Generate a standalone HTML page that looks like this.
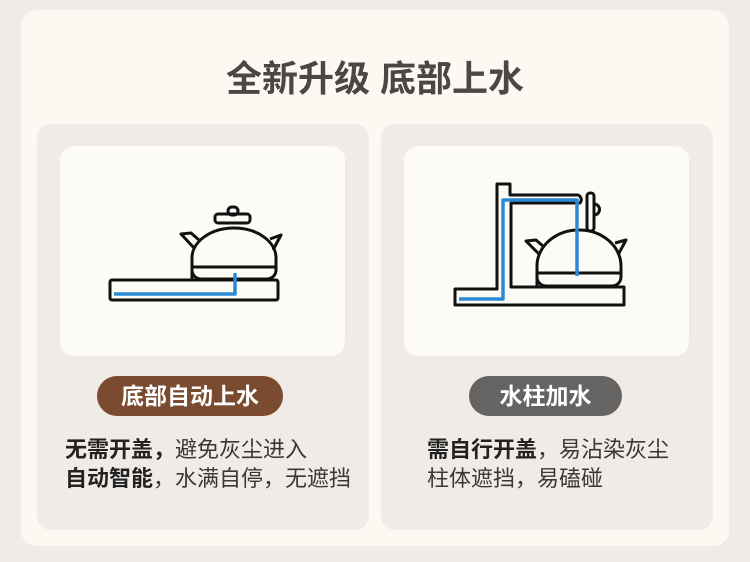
<!DOCTYPE html>
<html><head><meta charset="utf-8"><style>
body{margin:0;width:750px;height:562px;background:#f1ebe7;font-family:"Liberation Sans","Noto Sans CJK SC",sans-serif;overflow:hidden}
.outer{position:absolute;left:21px;top:10px;width:708px;height:536px;background:#fcf9f3;border-radius:16px}
.title{position:absolute;left:0;width:750px;top:50px;text-align:center;font-size:36px;font-weight:bold;color:#4a4744}
.card{position:absolute;top:124px;width:332px;height:406px;background:#f0ebe6;border-radius:14px}
.inner{position:absolute;left:23px;top:22px;width:285px;height:210px;background:#fdfbf6;border-radius:14px}
.pill{position:absolute;top:252px;height:40px;border-radius:20px;color:#fff;font-size:23px;font-weight:bold;line-height:40px;text-align:center}
.txt{position:absolute;left:28px;top:311px;font-size:22px;line-height:29px;color:#3a3836;white-space:nowrap}
b{font-weight:bold;color:#222}
</style></head><body>
<div class="outer"></div>
<div class="title">全新升级 底部上水</div>
<div class="card" style="left:37px"><div class="inner"></div>
<div class="pill" style="left:60px;width:186px;background:#7b4b30">底部自动上水</div>
<div class="txt"><b>无需开盖，</b>避免灰尘进入<br><b>自动智能</b>，水满自停，无遮挡</div></div>
<div class="card" style="left:381px"><div class="inner"></div>
<div class="pill" style="left:88px;width:153px;background:#666462">水柱加水</div>
<div class="txt" style="left:46px"><b>需自行开盖</b>，易沾染灰尘<br>柱体遮挡，易磕碰</div></div>
<svg width="750" height="562" style="position:absolute;left:0;top:0" fill="none" stroke="#111" stroke-width="3" stroke-linejoin="round">
<rect x="110" y="280" width="168" height="20" rx="2"/>
<path d="M192 279 V258 A42 30 0 0 1 276 258 V270 A9 9 0 0 1 267 279 H201 A9 9 0 0 1 192 270 Z"/>
<line x1="192" y1="267" x2="276" y2="267"/>
<rect x="215" y="214" width="35" height="9" rx="3"/>
<rect x="228" y="207" width="10" height="8" rx="4"/>
<path d="M195 249 L181 234 L191 233 L199 240"/><path d="M273 250 L281 235 L270 239"/>
<path d="M114 294 H235 V273" stroke="#2a8ad6" stroke-width="3.5"/>
<path d="M455 305 V289 H497 V184 H510 V195 H578 A5 5 0 0 1 580 203 H511 V287 H624 V305 Z"/>
<rect x="587" y="193" width="7" height="38" rx="3"/>
<path d="M594 204 a5 5 0 0 1 0 11"/>
<path d="M537 286 V266 A42 36 0 0 1 621 266 V277 A9 9 0 0 1 612 286 H546 A9 9 0 0 1 537 277 Z"/>
<line x1="537" y1="273" x2="621" y2="273"/>
<path d="M540 255 L526 241 L536 240 L544 247"/><path d="M618 255 L626 240 L615 243"/>
<path d="M459 299 H503 V200 H577 V276" stroke="#2a8ad6" stroke-width="3.5"/>
</svg>
</body></html>
